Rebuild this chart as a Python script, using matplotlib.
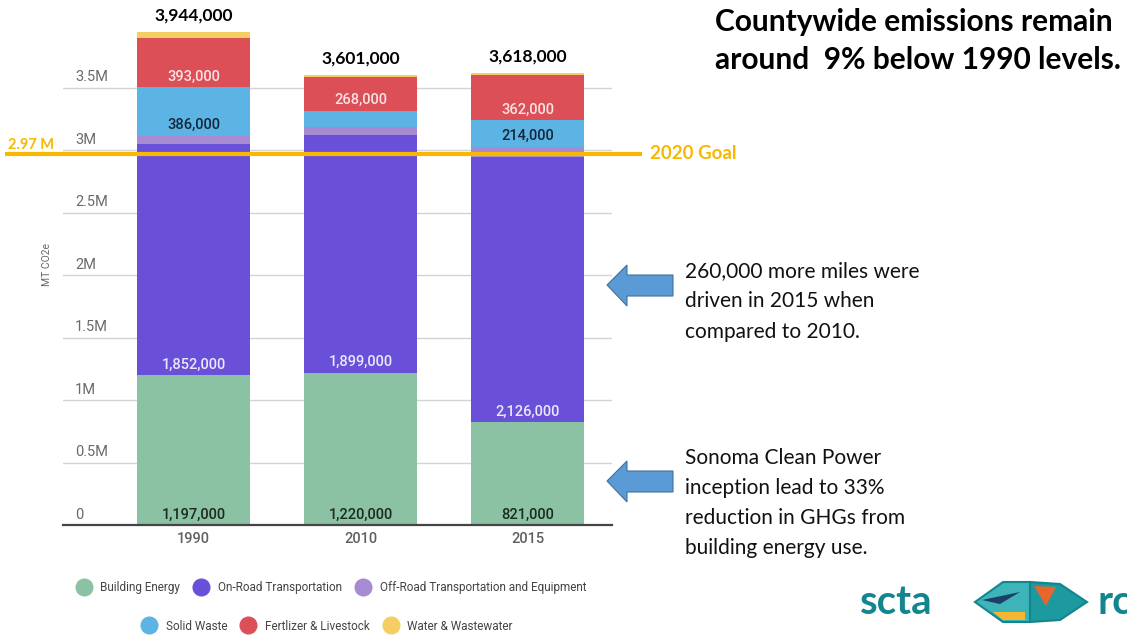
import matplotlib
matplotlib.use("Agg")
import matplotlib.pyplot as plt
import numpy as np
from matplotlib.lines import Line2D
from matplotlib.patches import Polygon
import matplotlib.transforms as mtransforms

plt.rcParams['font.family'] = ['Roboto', 'DejaVu Sans']

# data (MT CO2e)
years = ['1990', '2010', '2015']
building = [1197000, 1220000, 821000]
on_road = [1852000, 1899000, 2126000]
off_road = [66000, 63000, 80000]
solid_waste = [386000, 134000, 214000]
fertilizer = [393000, 268000, 362000]
water = [50000, 17000, 15000]
totals = [3944000, 3601000, 3618000]

# labels shown inside bars (None = no label)
building_lbl = ['1,197,000', '1,220,000', '821,000']
on_road_lbl = ['1,852,000', '1,899,000', '2,126,000']
solid_lbl = ['386,000', None, '214,000']
fert_lbl = ['393,000', '268,000', '362,000']

goal = 2970000
yticks = [0, 500000, 1000000, 1500000, 2000000, 2500000, 3000000, 3500000]
ytick_lbls = ['0', '0.5M', '1M', '1.5M', '2M', '2.5M', '3M', '3.5M']

series = [
    ('Building Energy', building, '#8bc2a4', building_lbl, '#1c2a20'),
    ('On-Road Transportation', on_road, '#6a50d8', on_road_lbl, '#ece8fb'),
    ('Off-Road Transportation and Equipment', off_road, '#a68ad2', None, None),
    ('Solid Waste', solid_waste, '#5cb4e4', solid_lbl, '#15263a'),
    ('Fertlizer & Livestock', fertilizer, '#dc4f56', fert_lbl, '#f8e4e4'),
    ('Water & Wastewater', water, '#f4cd63', None, None),
]

fig = plt.figure(figsize=(11.27, 6.37), dpi=100)
ax = fig.add_axes([63 / 1127, 1 - 525 / 637, 549 / 1127, 500 / 637])

x = np.arange(len(years))
bottom = np.zeros(len(years))
for name, vals, col, lbls, lcol in series:
    ax.bar(x, vals, 0.677, bottom=bottom, color=col, zorder=2)
    if lbls is not None:
        for i, t in enumerate(lbls):
            if t:
                ax.annotate(t, (x[i], bottom[i]), xytext=(0, 7.5), textcoords='offset points',
                            ha='center', va='center', fontsize=10.5, color=lcol,
                            fontweight='medium', zorder=4)
    bottom = bottom + np.array(vals)

# totals above bars
for i, t in enumerate(totals):
    ax.annotate(f'{t:,}', (x[i], bottom[i]), xytext=(0, 12), textcoords='offset points',
                ha='center', va='center', fontsize=12.5, fontweight='bold',
                family=['Lato', 'DejaVu Sans'], color='black', annotation_clip=False)

ax.set_xlim(-0.781, 2.506)
ax.set_ylim(0, 4000000)
ax.set_yticks(yticks)
ax.set_yticklabels([])
ax.tick_params(axis='y', length=0)
ax.grid(axis='y', color='#d3d3d3', linewidth=1)
ax.set_axisbelow(True)
for s in ['top', 'right', 'left']:
    ax.spines[s].set_visible(False)
ax.spines['bottom'].set_color('#444444')
ax.spines['bottom'].set_linewidth(1.6)
ax.spines['bottom'].set_zorder(3)

ytrans = mtransforms.blended_transform_factory(ax.transAxes, ax.transData)
for v, t in zip(yticks, ytick_lbls):
    ax.annotate(t, (12 / 549, v), xycoords=ytrans, xytext=(0, 7.5), textcoords='offset points',
                ha='left', va='center', fontsize=10.5, color='#6a6a6a')

ax.set_xticks(x)
ax.set_xticklabels(years, fontsize=10.5, color='#606060', fontweight='medium')
ax.tick_params(axis='x', length=0, pad=5)

fig.text(47 / 1127, 1 - 265 / 637, 'MT CO2e', rotation=90, ha='center', va='center',
         fontsize=7.5, color='#666666')

# 2020 goal line
gold = '#f6b800'
gtrans = mtransforms.blended_transform_factory(fig.transFigure, ax.transData)
ax.plot([5 / 1127, 642 / 1127], [goal, goal], transform=gtrans, color=gold, lw=3,
        clip_on=False, zorder=5, solid_capstyle='butt')
ax.annotate('2.97 M', (8 / 1127, goal), xycoords=gtrans, xytext=(0, 6.5), textcoords='offset points',
            ha='left', va='center', fontsize=10.5, fontweight='bold', color=gold,
            family=['Lato', 'DejaVu Sans'], annotation_clip=False)
ax.annotate('2020 Goal', (650 / 1127, goal), xycoords=gtrans, ha='left', va='center',
            fontsize=13.5, fontweight='bold', color=gold, family=['Lato', 'DejaVu Sans'],
            annotation_clip=False)

# title
fig.text(715 / 1127, 1 - 8 / 637, 'Countywide emissions remain\naround  9% below 1990 levels.',
         ha='left', va='top', fontsize=21.5, fontweight='bold', color='black',
         family=['Lato', 'DejaVu Sans'], linespacing=1.42)

# notes
fig.text(685 / 1127, 1 - 261 / 637, '260,000 more miles were\ndriven in 2015 when\ncompared to 2010.',
         ha='left', va='top', fontsize=15, color='#111111', family=['Lato', 'DejaVu Sans'],
         linespacing=1.65)
fig.text(685 / 1127, 1 - 448 / 637,
         'Sonoma Clean Power\ninception lead to 33%\nreduction in GHGs from\nbuilding energy use.',
         ha='left', va='top', fontsize=15, color='#111111', family=['Lato', 'DejaVu Sans'],
         linespacing=1.63)


def left_arrow(cy):
    pts = [(607, cy), (627, cy - 20), (627, cy - 10), (673, cy - 10),
           (673, cy + 11), (627, cy + 11), (627, cy + 21)]
    pts = [(px / 1127, 1 - py / 637) for px, py in pts]
    fig.patches.append(Polygon(pts, closed=True, transform=fig.transFigure,
                               facecolor='#5b9bd5', edgecolor='#41719c', lw=0.8))


left_arrow(285)
left_arrow(481)


# legend
def legend_row(items, y, cx):
    handles = [Line2D([], [], marker='o', ls='', markersize=12, markerfacecolor=c,
                      markeredgecolor=c) for _, c in items]
    leg = fig.legend(handles, [n for n, _ in items], loc='center', bbox_to_anchor=(cx / 1127, y),
                     ncol=len(items), frameon=False, fontsize=8.5, handlelength=1.0,
                     handletextpad=0.9, columnspacing=1.3, labelcolor='#444444')
    return leg


legend_row([(s[0], s[2]) for s in series[:3]], 1 - 588 / 637, 332)
legend_row([(s[0], s[2]) for s in series[3:]], 1 - 626 / 637, 328)

# logo
teal = '#13858e'


def poly(pts, fc, ec='none', lw=0):
    fig.patches.append(Polygon([(px / 1127, 1 - py / 637) for px, py in pts], closed=True,
                               transform=fig.transFigure, facecolor=fc, edgecolor=ec, lw=lw))


fig.text(860 / 1127, 1 - 603 / 637, 'scta', ha='left', va='center', fontsize=29,
         fontweight='bold', color=teal, family=['Lato', 'DejaVu Sans'])
poly([(975, 602), (1003, 582), (1030, 582), (1030, 622), (1003, 622)], '#3db5b8', teal, 1.5)
poly([(1030, 582), (1060, 584), (1087, 602), (1060, 620), (1030, 622)], '#1c9aa0', teal, 1.5)
poly([(993, 612), (1025, 612), (1025, 620), (1003, 620)], '#f6b632')
poly([(1034, 586), (1056, 587), (1046, 606)], '#e8652c')
poly([(982, 600), (1020, 592), (1000, 604)], '#1d3f66')
fig.text(1098 / 1127, 1 - 603 / 637, 'rc', ha='left', va='center', fontsize=29,
         fontweight='bold', color=teal, family=['Lato', 'DejaVu Sans'])

fig.savefig('out.png', dpi=100)
